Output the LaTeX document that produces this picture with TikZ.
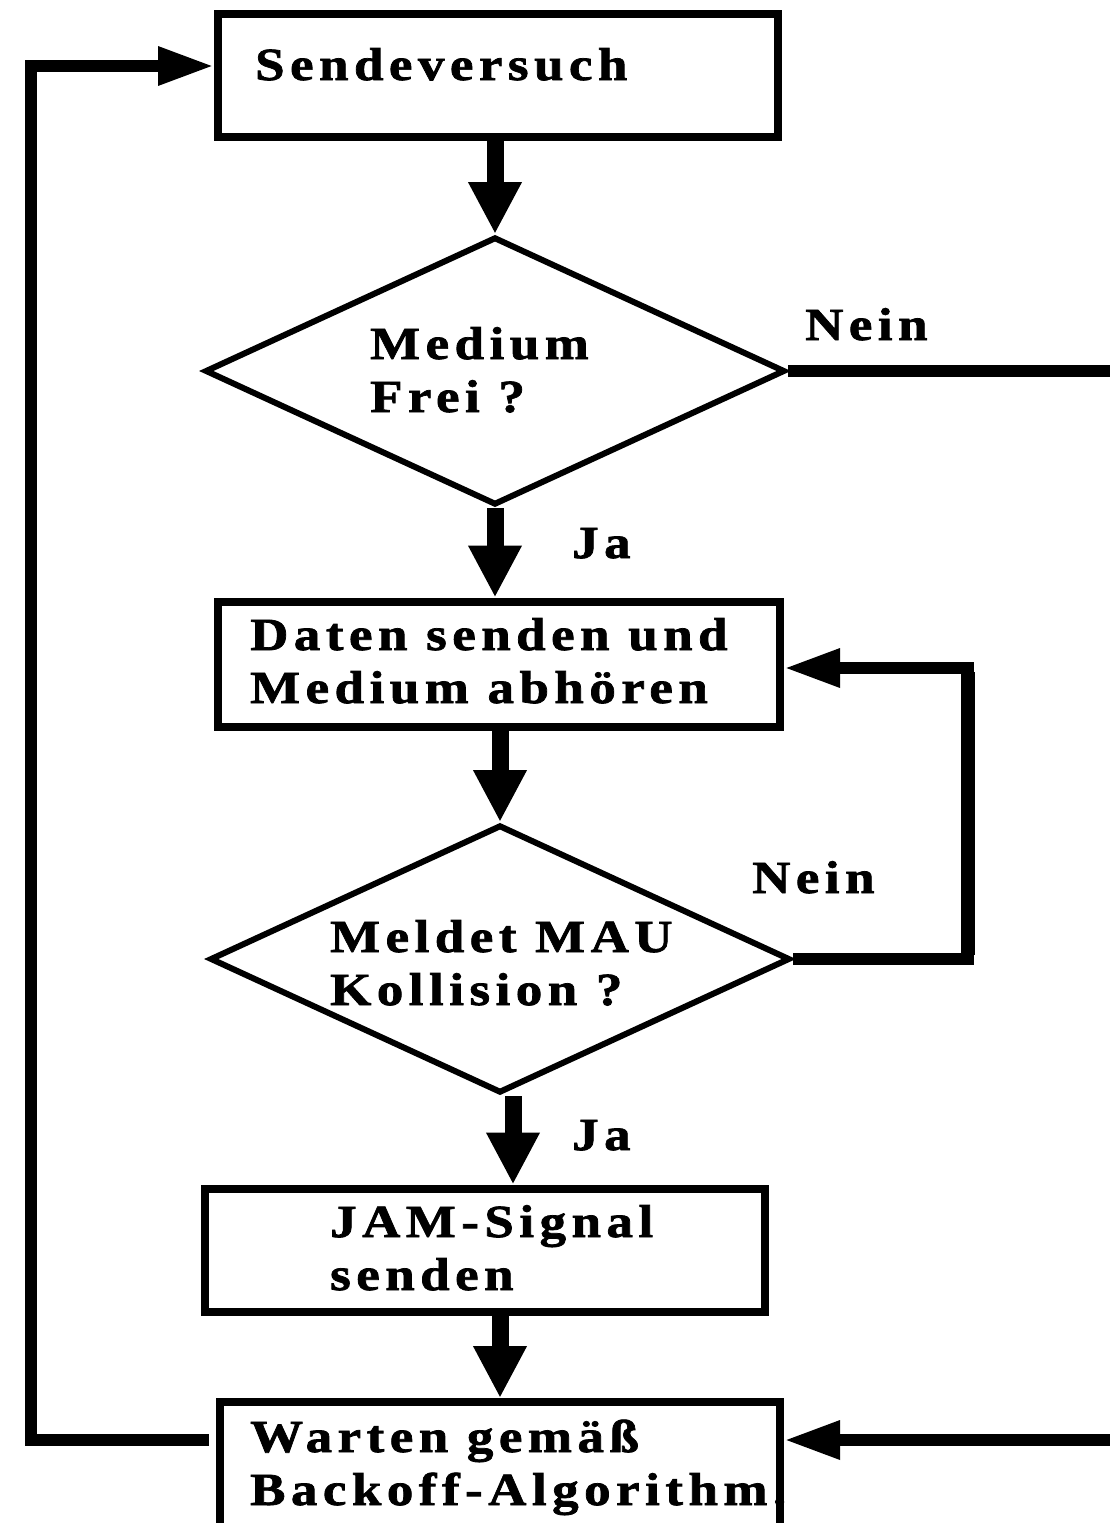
\documentclass[tikz,border=0pt]{standalone}
\usepackage{fontspec}
\setmainfont{Liberation Serif}[FakeStretch=1.15, LetterSpace=12, BoldFeatures={FakeBold=1.6}]
\usetikzlibrary{arrows.meta,shapes.geometric}
\begin{document}
\begin{tikzpicture}[x=1pt,y=-1pt,
  every node/.style={inner sep=0pt},
  box/.style={draw, line width=8pt, rectangle},
  decision/.style={draw, line width=6pt, diamond},
  lbl/.style={anchor=base west, align=left,
    font=\fontsize{46}{53}\selectfont\bfseries},
  flow/.style={line width=17pt, -{Triangle[length=52pt,width=50pt]}},
  back/.style={line width=12pt, -{Triangle[length=56pt,width=36pt]}}]
\useasboundingbox (0,0) rectangle (1110,1523);
\clip (0,0) rectangle (1110,1523);

% boxes and decisions
\node[box, minimum width=560pt, minimum height=123pt] (b1) at (498,75.5) {};
\node[decision, minimum width=580pt, minimum height=268pt] (d1) at (495,371) {};
\node[box, minimum width=562pt, minimum height=125pt] (b2) at (499,664) {};
\node[decision, minimum width=580pt, minimum height=268pt] (d2) at (500,959) {};
\node[box, minimum width=560pt, minimum height=123pt] (b3) at (485,1250) {};
\node[box, minimum width=560pt, minimum height=130pt] (b4) at (500,1467) {};

% texts (a two-line node sits on the baseline of its last line)
\node[lbl] (t1) at (255,80) {Sendeversuch};
\node[lbl] (t2) at (370,412) {Medium\\Frei ?};
\node[lbl] (t3) at (250,703) {Daten senden und\\Medium abhören};
\node[lbl] (t4) at (330,1005) {Meldet MAU\\Kollision ?};
\node[lbl] (t5) at (330,1290) {JAM-Signal\\senden};
\node[lbl] (t6) at (250,1505) {Warten gemäß\\Backoff-Algorithm.};
\node[lbl] (n1) at (805,340) {Nein};
\node[lbl] (n2) at (752,893) {Nein};
\node[lbl] (j1) at (572,558) {Ja};
\node[lbl] (j2) at (572,1150) {Ja};

% main flow
\draw[flow] (b1.south -| d1.north) -- (d1.north);
\draw[flow] (d1.south) -- (d1.south |- b2.north);
\draw[flow] (b2.south -| d2.north) -- (d2.north);
\draw[flow] ([xshift=13pt]d2.south) -- ([xshift=13pt]d2.south |- b3.north);
\draw[flow] (b3.south -| b4.north) -- (b4.north);

% no collision: keep sending
\draw[back] (d2.east) -- (968,959) -- (968,668) -- ([yshift=-4pt]b2.east);
\draw[line width=14pt] (968,672) -- (968,955);

% medium busy: wait
\draw[back] (d1.east) -- (1124,371) -- (1124,1440) -- ([yshift=27pt]b4.east);

% retry after backoff
\draw[back] ([yshift=27pt,xshift=-7pt]b4.west) -- (31,1440) -- (31,66) -- ([yshift=9.5pt]b1.west);
\end{tikzpicture}
\end{document}
